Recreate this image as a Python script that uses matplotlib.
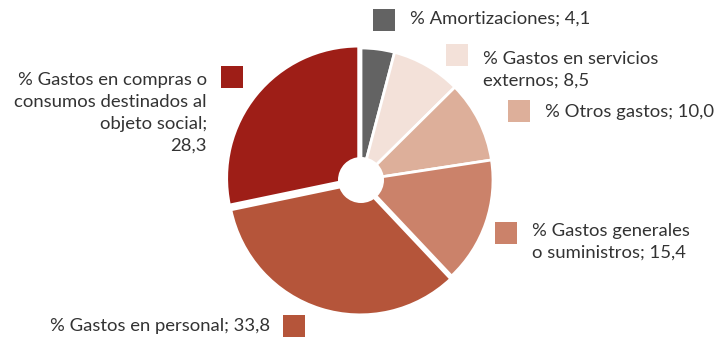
import matplotlib
matplotlib.use("Agg")
import matplotlib.pyplot as plt
from matplotlib.patches import Circle, Rectangle

# Cost structure (%), clockwise from the top
categories = [
    "% Amortizaciones",
    "% Gastos en servicios\nexternos",
    "% Otros gastos",
    "% Gastos generales\no suministros",
    "% Gastos en personal",
    "% Gastos en compras o\nconsumos destinados al\nobjeto social",
]
values = [4.1, 8.5, 10.0, 15.4, 33.8, 28.3]
colors = ["#636363", "#F3E1D9", "#DDAF9A", "#CB826A", "#B5553A", "#9E1E17"]
explode = [0, 0, 0, 0, 3, 3]

W, H = 714, 339
TEXT = "#333333"
plt.rcParams["font.family"] = ["Lato", "DejaVu Sans"]

fig = plt.figure(figsize=(W / 100, H / 100), dpi=100)
ax = fig.add_axes([0, 0, 1, 1])

cx, cy = 361, H - 180
ax.pie(values, colors=colors, startangle=90, counterclock=False,
       center=(cx, cy), radius=132, explode=explode, frame=True,
       wedgeprops=dict(edgecolor="white", linewidth=2))
ax.add_patch(Circle((cx, cy), 23, facecolor="white", edgecolor="none", zorder=5))
ax.set_xlim(0, W)
ax.set_ylim(0, H)
ax.set_aspect("equal")
ax.axis("off")


def fmt(v):
    return f"{v:.1f}".replace(".", ",")


def label(i):
    name = categories[i]
    if i == 5:
        return f"{name};\n{fmt(values[i])}"
    return f"{name}; {fmt(values[i])}"


# legend square (left, top) and text anchor (x, y centre, alignment), image coords
layout = [
    ((373, 9), (410, 19, "left")),
    ((446, 44), (483, 70, "left")),
    ((508, 100), (545, 112, "left")),
    ((495, 222), (532, 242, "left")),
    ((283, 315), (270, 326, "right")),
    ((221, 66), (207, 113, "right")),
]
SQ = 22
for i, ((sx, sy), (tx, ty, ha)) in enumerate(layout):
    ax.add_patch(Rectangle((sx, H - sy - SQ), SQ, SQ, facecolor=colors[i],
                           edgecolor="none"))
    ax.text(tx, H - ty, label(i), ha=ha, va="center", multialignment=ha,
            fontsize=13.3, color=TEXT, linespacing=1.45)

fig.savefig("out.png", dpi=100, facecolor="white")
